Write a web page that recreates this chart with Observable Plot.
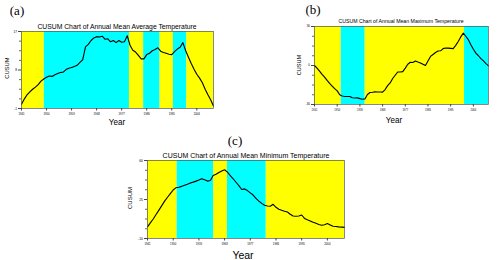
<!DOCTYPE html>
<html>
<head>
<meta charset="utf-8">
<script src="https://cdn.jsdelivr.net/npm/d3@7"></script>
<script src="https://cdn.jsdelivr.net/npm/@observablehq/plot@0.6"></script>
<style>
  html, body { margin: 0; padding: 0; background: #fff; }
  #root { position: relative; width: 500px; height: 260px; overflow: hidden; font-family: "Liberation Sans", Arial, sans-serif; }
  .abs { position: absolute; white-space: nowrap; color: #000; line-height: 1; }
  .letter { font-family: "Liberation Serif", "Times New Roman", serif; font-size: 13px; transform: translate(-50%, -50%); }
  .title { transform: translate(-50%, -50%); }
  .year { transform: translate(-50%, -50%); }
  .cusum { transform: translate(-50%, -50%) rotate(-90deg); }
  .plot { position: absolute; }
</style>
</head>
<body>
<div id="root"></div>
<script>
// ---------- data ----------
const years = d3.range(1941, 2011);
const xTickLabels = [1941, 1950, 1959, 1968, 1977, 1986, 1995, 2004];

const avgValues = [
  0, 1.2, 2.2, 2.9, 3.5, 4.0, 4.6, 5.4, 5.9, 6.3,
  6.6, 6.5, 6.9, 7.2, 7.4, 7.5, 8.1, 8.4, 8.6, 8.8,
  9.1, 9.8, 10.4, 13.4, 14.0, 14.9, 15.5, 15.8, 15.7, 15.9,
  15.2, 15.3, 14.6, 14.9, 14.4, 14.9, 14.5, 14.6, 16.0, 13.8,
  12.6, 12.2, 11.4, 10.6, 10.6, 11.6, 11.9, 12.5, 12.8, 13.2,
  12.4, 12.1, 11.9, 11.7, 11.6, 12.3, 12.9, 13.3, 14.4, 12.5,
  11.0, 9.5, 8.2, 7.0, 6.1, 5.0, 3.5, 2.2, 1.0, -0.4
];
const maxValues = [
  0, -2.0, -4.4, -6.8, -9.0, -11.5, -13.8, -15.8, -17.8, -19.5,
  -22.5, -23.5, -23.8, -23.8, -23.8, -24.8, -25.0, -24.9, -25.5, -26.0,
  -25.7, -22.3, -20.8, -20.6, -20.3, -20.4, -20.4, -20.5, -18.5, -15.5,
  -13.4, -10.0, -7.5, -5.0, -5.0, -4.7, -2.0, 1.0, 2.5, 2.3,
  3.5, 2.7, 2.0, 1.0, 0, 3.5, 7.0, 8.5, 10.0, 11.1,
  11.3, 13.0, 13.4, 13.4, 13.2, 13.0, 15.5, 18.5, 22.0, 24.9,
  22.5, 19.9, 16.0, 12.5, 9.5, 7.5, 5.3, 3.5, 1.5, -0.3
];
const minValues = [
  0.4, 4.0, 7.5, 11.5, 15.5, 19.5, 23.5, 27.0, 30.2, 33.5,
  35.6, 36.0, 36.8, 37.8, 38.6, 39.8, 40.6, 41.5, 42.5, 43.6,
  42.8, 41.5, 42.0, 46.5, 47.6, 49.2, 50.5, 51.7, 49.5, 46.5,
  43.6, 40.5, 37.5, 34.0, 34.5, 33.0, 31.0, 29.0, 26.0, 23.6,
  21.5, 19.8, 19.2, 19.0, 20.7, 18.0, 16.3, 15.3, 14.5, 13.8,
  11.8, 10.2, 10.0, 10.2, 11.1, 8.0, 6.8, 5.8, 4.5, 3.6,
  2.6, 1.9, 2.3, 3.4, 2.2, 1.0, 0.8, 0.4, 0.2, 0.0
];

// band break points (first band yellow, then alternating cyan / yellow)
const avgBreaks = [1941, 1949.2, 1979.8, 1984.9, 1990.8, 1995.6, 2000.4, 2010];
const maxBreaks = [1941, 1951.6, 1961.1, 2000.5, 2010];
const minBreaks = [1941, 1951.4, 1964.2, 1969.0, 1982.6, 2010];

const avgYTicks = [-1, 8, 17];
const maxYTicks = [-30, 0, 30];
const minYTicks = [-10, 25, 60];

const titles = [
  "CUSUM Chart of Annual Mean Average Temperature",
  "CUSUM Chart of Annual Mean Maximum Temperature",
  "CUSUM Chart of Annual Mean Minimum Temperature"
];
const panelLetters = ["(a)", "(b)", "(c)"];
const xLabel = "Year";
const yLabel = "CUSUM";
const bandColors = ["#ffff00", "#00ffff"];

// ---------- helpers ----------
function bandRows(breaks) {
  const rows = [];
  for (let i = 0; i < breaks.length - 1; i++) {
    rows.push({x1: breaks[i], x2: breaks[i + 1], color: bandColors[i % 2]});
  }
  return rows;
}
function minorTicks(major) {
  const out = [];
  for (let i = 0; i < major.length - 1; i++) {
    const step = (major[i + 1] - major[i]) / 4;
    for (let k = 1; k < 4; k++) out.push(major[i] + k * step);
  }
  return out;
}

function panel(cfg) {
  const rows = years.map((y, i) => ({year: y, value: cfg.values[i]}));
  const yt = cfg.yTicks;
  return Plot.plot({
    width: cfg.width,
    height: cfg.height,
    marginLeft: cfg.ml, marginRight: cfg.mr, marginTop: cfg.mt, marginBottom: cfg.mb,
    style: {background: "transparent", fontFamily: "Liberation Sans, Arial, sans-serif", color: "#000"},
    x: {domain: [1941, 2010], axis: null},
    y: {domain: [yt[0], yt[yt.length - 1]], axis: null},
    color: {type: "identity"},
    marks: [
      Plot.rect(bandRows(cfg.breaks), {x1: "x1", x2: "x2", fill: "color"}),
      Plot.line(rows, {x: "year", y: "value", stroke: "#000", strokeWidth: 1.1}),
      Plot.frame({stroke: "#555", strokeWidth: 0.7}),
      Plot.axisX({ticks: xTickLabels, tickSize: 2.5, tickPadding: 2, fontSize: cfg.xfs, tickFormat: d => String(d), label: null, stroke: "#444"}),
      Plot.axisY({ticks: yt, tickSize: 3, tickPadding: 1.5, fontSize: cfg.yfs, tickFormat: d => String(d), label: null, stroke: "#444"}),
      Plot.axisY({ticks: minorTicks(yt), tickSize: 2, text: null, label: null, stroke: "#666"})
    ]
  });
}

const root = document.getElementById("root");
function addPlot(svg, left, top) {
  svg.classList.add("plot");
  svg.style.left = left + "px";
  svg.style.top = top + "px";
  root.appendChild(svg);
}
function addText(txt, cls, x, y, size, extra) {
  const d = document.createElement("div");
  d.className = "abs " + cls;
  d.textContent = txt;
  d.style.left = x + "px";
  d.style.top = y + "px";
  if (size) d.style.fontSize = size + "px";
  if (extra) Object.assign(d.style, extra);
  root.appendChild(d);
}

// ---------- panel (a) ----------
addPlot(panel({values: avgValues, breaks: avgBreaks, yTicks: avgYTicks,
  width: 250, height: 130, ml: 21, mr: 37, mt: 31, mb: 22, xfs: 2.8, yfs: 3.2}), 0, 0);
addText(panelLetters[0], "letter", 17, 10);
addText(titles[0], "title", 117, 27, 6.8);
addText(xLabel, "year", 117, 122, 9.5, {transform: "translate(-50%,-50%) scaleX(0.85)"});
addText(yLabel, "cusum", 7.5, 68, 5.8);

// ---------- panel (b) ----------
addPlot(panel({values: maxValues, breaks: maxBreaks, yTicks: maxYTicks,
  width: 250, height: 130, ml: 64, mr: 12, mt: 26, mb: 26, xfs: 2.6, yfs: 3.0}), 250, 0);
addText(panelLetters[1], "letter", 313, 9);
addText(titles[1], "title", 401, 21.5, 5.2);
addText(xLabel, "year", 394, 120, 9.5, {transform: "translate(-50%,-50%) scaleX(0.85)"});
addText(yLabel, "cusum", 300, 65, 5.6);

// ---------- panel (c) ----------
addPlot(panel({values: minValues, breaks: minBreaks, yTicks: minYTicks,
  width: 300, height: 130, ml: 47, mr: 56, mt: 30, mb: 22, xfs: 2.8, yfs: 3.4}), 100, 130);
addText(panelLetters[2], "letter", 235, 140);
addText(titles[2], "title", 246, 155, 7);
addText(xLabel, "year", 243, 255, 10.5);
addText(yLabel, "cusum", 130, 197.5, 6);
</script>
</body>
</html>
